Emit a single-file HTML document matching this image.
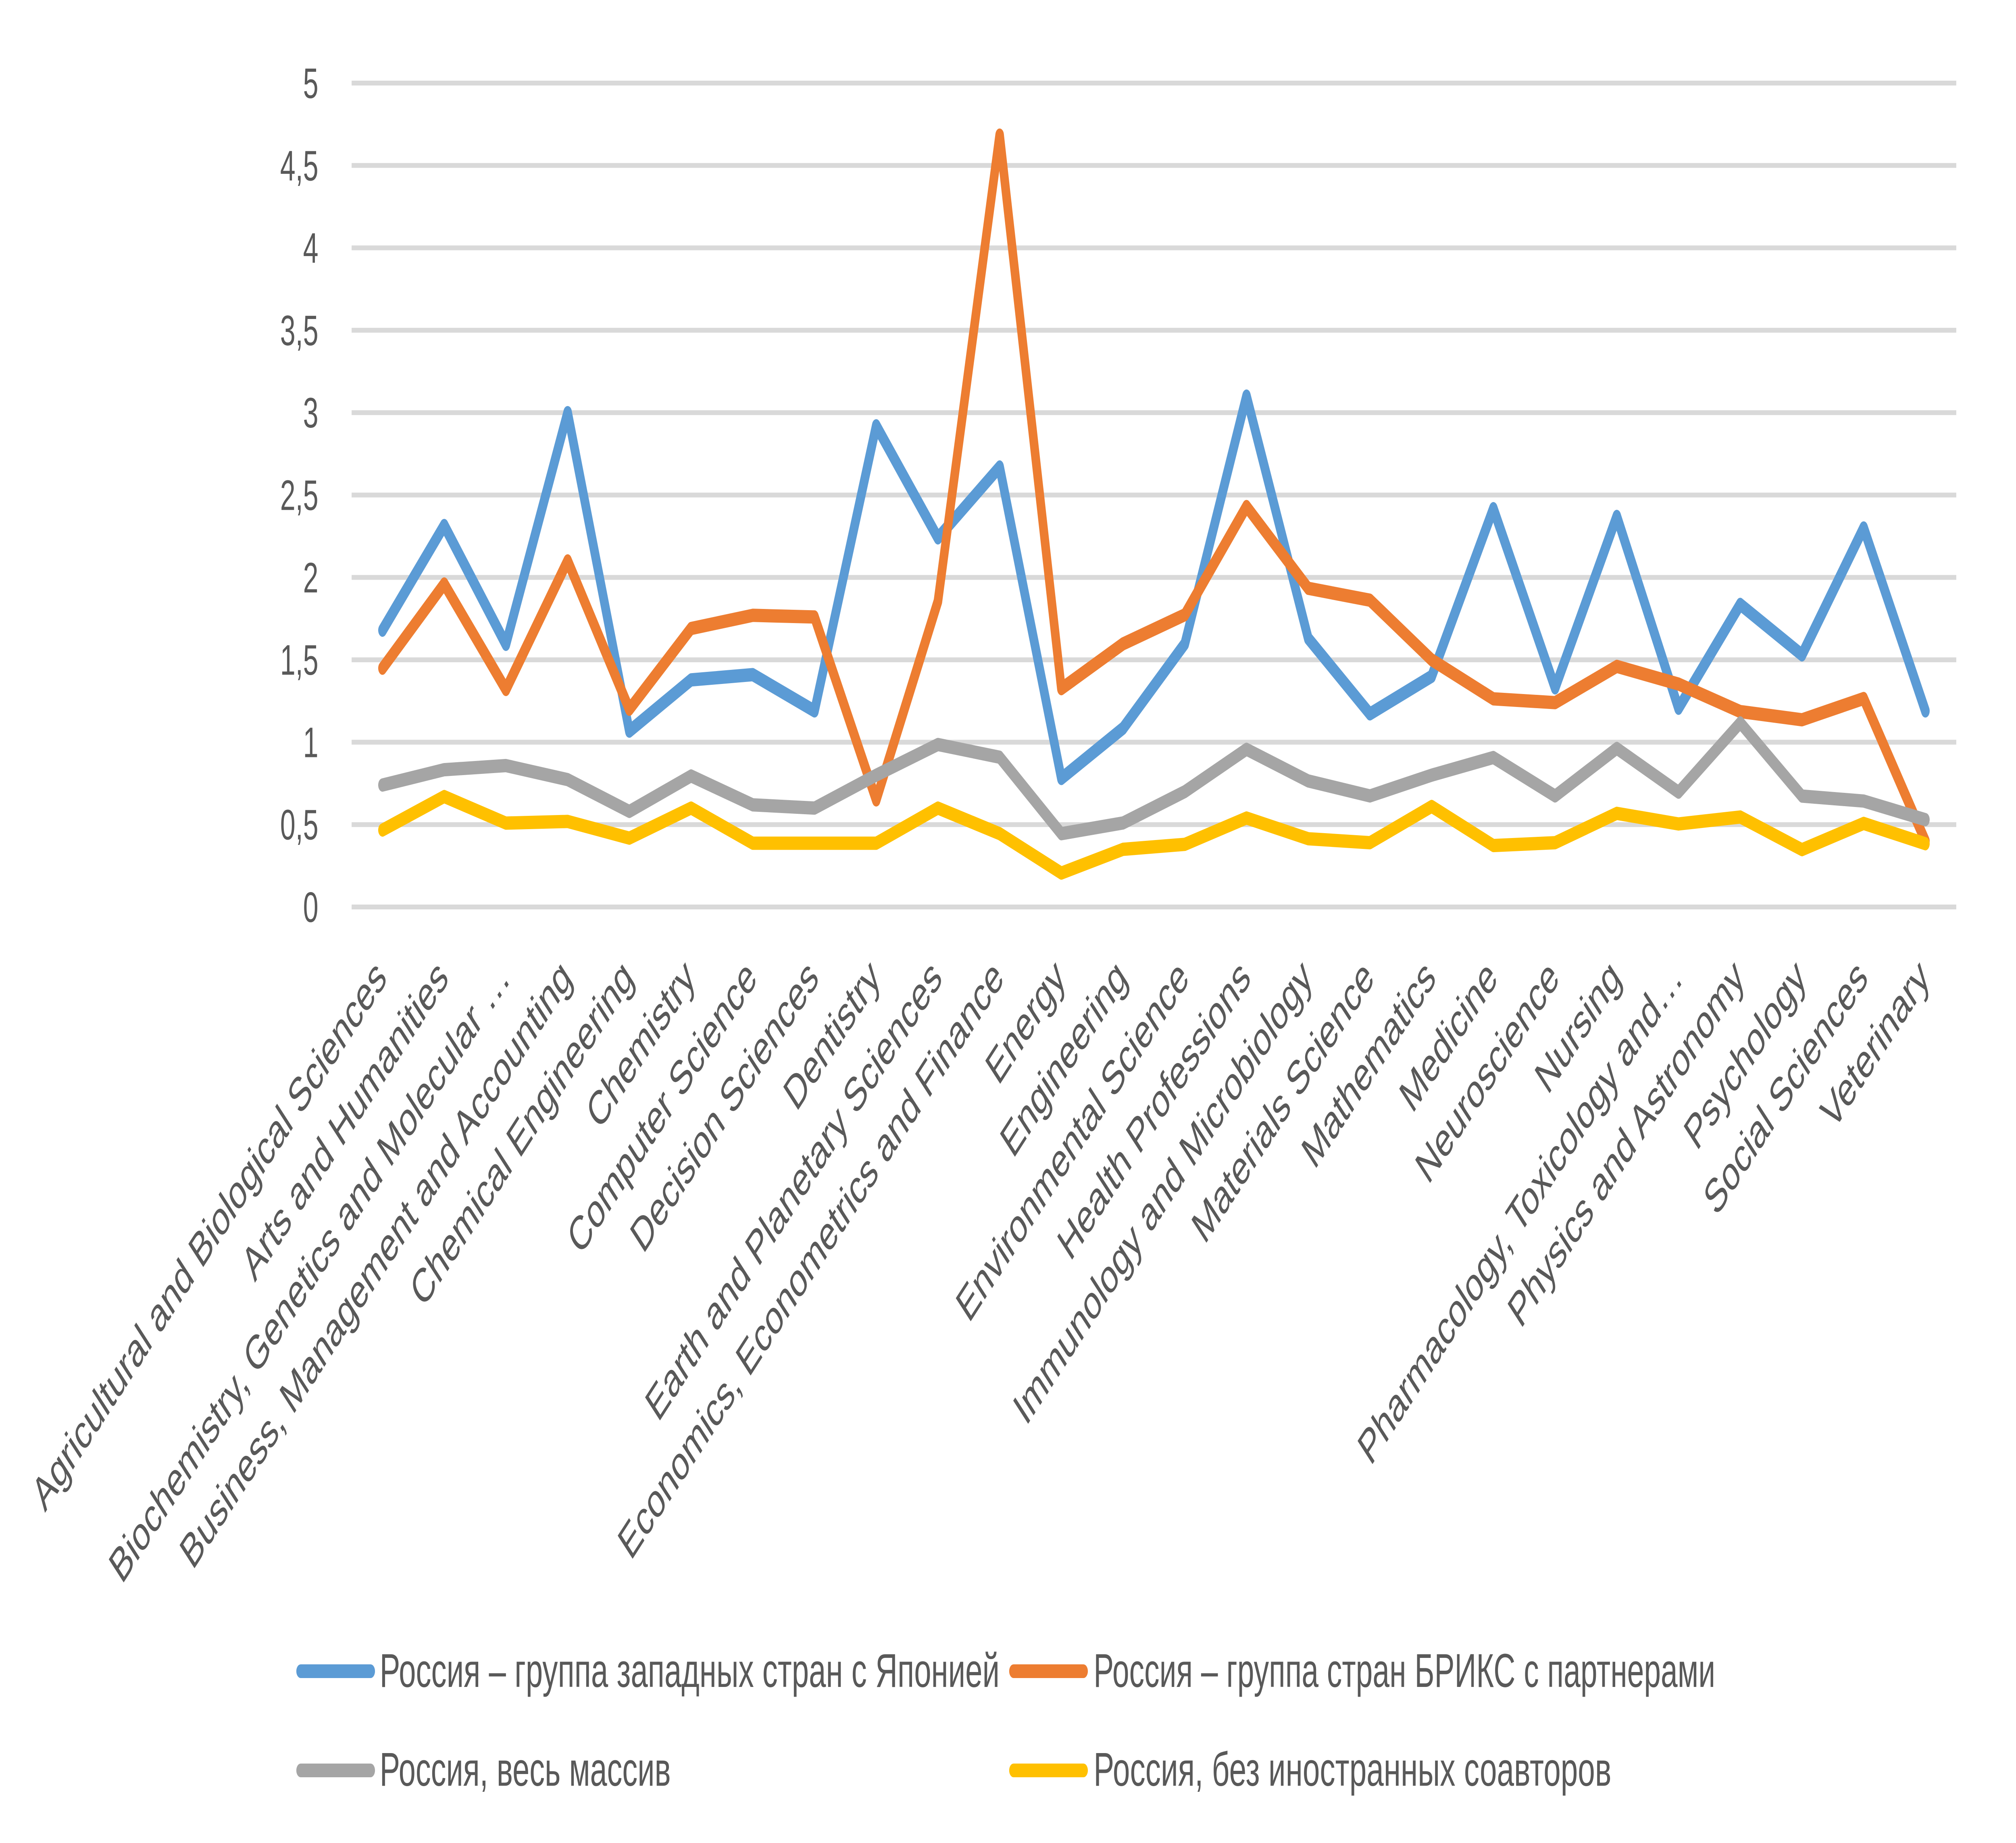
<!DOCTYPE html>
<html>
<head>
<meta charset="utf-8">
<style>
html,body{margin:0;padding:0;background:#fff;width:100%;height:100%;overflow:hidden;}
svg{position:absolute;left:0;top:0;width:100%;height:100%;display:block;}
text{font-family:"Liberation Sans","DejaVu Sans",sans-serif;fill:#595959;}
</style>
</head>
<body>
<svg viewBox="0 0 7763 4570" preserveAspectRatio="none" xmlns="http://www.w3.org/2000/svg">
<rect x="0" y="0" width="7763" height="4570" fill="#ffffff"/>
<g stroke="#d9d9d9" stroke-width="12">
<line x1="1354" y1="2249" x2="7533" y2="2249"/>
<line x1="1354" y1="2044.7" x2="7533" y2="2044.7"/>
<line x1="1354" y1="1840.4" x2="7533" y2="1840.4"/>
<line x1="1354" y1="1636.1" x2="7533" y2="1636.1"/>
<line x1="1354" y1="1431.8" x2="7533" y2="1431.8"/>
<line x1="1354" y1="1227.5" x2="7533" y2="1227.5"/>
<line x1="1354" y1="1023.2" x2="7533" y2="1023.2"/>
<line x1="1354" y1="818.9" x2="7533" y2="818.9"/>
<line x1="1354" y1="614.6" x2="7533" y2="614.6"/>
<line x1="1354" y1="410.3" x2="7533" y2="410.3"/>
<line x1="1354" y1="206" x2="7533" y2="206"/>
</g>
<g font-size="106" text-anchor="end">
<text x="1226" y="2286">0</text>
<text x="1226" y="2081.7">0,5</text>
<text x="1226" y="1877.4">1</text>
<text x="1226" y="1673.1">1,5</text>
<text x="1226" y="1468.8">2</text>
<text x="1226" y="1264.5">2,5</text>
<text x="1226" y="1060.2">3</text>
<text x="1226" y="855.9">3,5</text>
<text x="1226" y="651.6">4</text>
<text x="1226" y="447.3">4,5</text>
<text x="1226" y="243">5</text>
</g>
<g fill="none" stroke-width="33" stroke-linejoin="round" stroke-linecap="round">
<polyline stroke="#5b9bd5" points="1472.8,1562.6 1710.5,1303.1 1948.1,1597.7 2185.8,1023.2 2423.4,1813.0 2661.1,1685.9 2898.7,1672.9 3136.4,1762.8 3374.0,1055.9 3611.7,1333.7 3849.3,1158.0 4087.0,1930.3 4324.6,1805.7 4562.3,1596.5 4799.9,982.3 5037.6,1583.0 5275.2,1770.1 5512.9,1677.0 5750.5,1261.4 5988.2,1705.6 6225.8,1280.6 6463.5,1756.2 6701.1,1498.8 6938.8,1623.8 7176.4,1309.2 7414.1,1762.8"/>
<polyline stroke="#ed7d31" points="1472.8,1656.9 1710.5,1448.1 1948.1,1709.6 2185.8,1390.9 2423.4,1758.7 2661.1,1558.5 2898.7,1525.8 3136.4,1529.9 3374.0,1983.4 3611.7,1491.0 3849.3,335.1 4087.0,1707.6 4324.6,1596.5 4562.3,1524.5 4799.9,1256.1 5037.6,1458.8 5275.2,1488.2 5512.9,1636.1 5750.5,1732.9 5988.2,1742.3 6225.8,1652.4 6463.5,1696.2 6701.1,1764.4 6938.8,1784.8 7176.4,1732.1 7414.1,2085.6"/>
<polyline stroke="#a5a5a5" points="1472.8,1946.6 1710.5,1908.6 1948.1,1898.4 2185.8,1933.2 2423.4,2012.0 2661.1,1924.2 2898.7,1995.7 3136.4,2003.8 3374.0,1922.1 3611.7,1846.1 3849.3,1877.6 4087.0,2067.2 4324.6,2040.6 4562.3,1963.0 4799.9,1858.0 5037.6,1936.4 5275.2,1973.6 5512.9,1922.1 5750.5,1878.4 5988.2,1973.6 6225.8,1855.9 6463.5,1964.2 6701.1,1792.6 6938.8,1974.0 7176.4,1986.3 7414.1,2032.4"/>
<polyline stroke="#ffc000" points="1472.8,2058.2 1710.5,1975.2 1948.1,2041.0 2185.8,2036.9 2423.4,2078.2 2661.1,2003.8 2898.7,2090.9 3136.4,2090.9 3374.0,2090.9 3611.7,2003.8 3849.3,2067.2 4087.0,2164.8 4324.6,2106.0 4562.3,2093.7 4799.9,2028.4 5037.6,2079.8 5275.2,2089.6 5512.9,1999.8 5750.5,2096.6 5988.2,2089.6 6225.8,2016.9 6463.5,2043.1 6701.1,2025.9 6938.8,2106.8 7176.4,2041.8 7414.1,2092.1"/>
</g>
<g font-size="118" text-anchor="end">
<text transform="translate(1494.8,2430) rotate(-45)">Agricultural and Biological Sciences</text>
<text transform="translate(1732.5,2430) rotate(-45)">Arts and Humanities</text>
<text transform="translate(1970.1,2430) rotate(-45)">Biochemistry, Genetics and Molecular …</text>
<text transform="translate(2207.8,2430) rotate(-45)">Business, Management and Accounting</text>
<text transform="translate(2445.4,2430) rotate(-45)">Chemical Engineering</text>
<text transform="translate(2683.1,2430) rotate(-45)">Chemistry</text>
<text transform="translate(2920.7,2430) rotate(-45)">Computer Science</text>
<text transform="translate(3158.4,2430) rotate(-45)">Decision Sciences</text>
<text transform="translate(3396.0,2430) rotate(-45)">Dentistry</text>
<text transform="translate(3633.7,2430) rotate(-45)">Earth and Planetary Sciences</text>
<text transform="translate(3871.3,2430) rotate(-45)">Economics, Econometrics and Finance</text>
<text transform="translate(4109.0,2430) rotate(-45)">Energy</text>
<text transform="translate(4346.6,2430) rotate(-45)">Engineering</text>
<text transform="translate(4584.3,2430) rotate(-45)">Environmental Science</text>
<text transform="translate(4821.9,2430) rotate(-45)">Health Professions</text>
<text transform="translate(5059.6,2430) rotate(-45)">Immunology and Microbiology</text>
<text transform="translate(5297.2,2430) rotate(-45)">Materials Science</text>
<text transform="translate(5534.9,2430) rotate(-45)">Mathematics</text>
<text transform="translate(5772.5,2430) rotate(-45)">Medicine</text>
<text transform="translate(6010.2,2430) rotate(-45)">Neuroscience</text>
<text transform="translate(6247.8,2430) rotate(-45)">Nursing</text>
<text transform="translate(6485.5,2430) rotate(-45)">Pharmacology, Toxicology and…</text>
<text transform="translate(6723.1,2430) rotate(-45)">Physics and Astronomy</text>
<text transform="translate(6960.8,2430) rotate(-45)">Psychology</text>
<text transform="translate(7198.4,2430) rotate(-45)">Social Sciences</text>
<text transform="translate(7436.1,2430) rotate(-45)">Veterinary</text>
</g>
<g stroke-width="34" stroke-linecap="round">
<line x1="1158" y1="4144" x2="1427" y2="4144" stroke="#5b9bd5"/>
<line x1="3903" y1="4144" x2="4172" y2="4144" stroke="#ed7d31"/>
<line x1="1158" y1="4390" x2="1427" y2="4390" stroke="#a5a5a5"/>
<line x1="3903" y1="4390" x2="4172" y2="4390" stroke="#ffc000"/>
</g>
<g font-size="118">
<text x="1462" y="4183" textLength="2387" lengthAdjust="spacingAndGlyphs">Россия – группа западных стран с Японией</text>
<text x="4211" y="4183" textLength="2394" lengthAdjust="spacingAndGlyphs">Россия – группа стран БРИКС с партнерами</text>
<text x="1462" y="4428" textLength="1121" lengthAdjust="spacingAndGlyphs">Россия, весь массив</text>
<text x="4211" y="4428" textLength="1994" lengthAdjust="spacingAndGlyphs">Россия, без иностранных соавторов</text>
</g>
</svg>
</body>
</html>
